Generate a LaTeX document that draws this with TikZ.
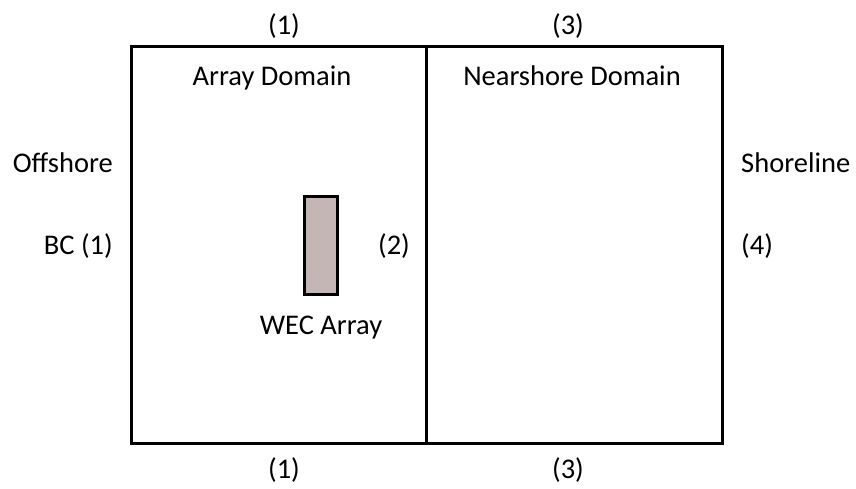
\documentclass[tikz,border=0pt]{standalone}
\usepackage{fontspec}
\setmainfont{Carlito}
\usepackage{tikz}
\usepackage{xcolor}
\definecolor{wecfill}{RGB}{197,182,182}
\tikzset{lbl/.style={inner sep=0pt,font=\fontsize{28.5}{34}\selectfont}}

\begin{document}
\begin{tikzpicture}[x=1pt,y=-1pt]
					\useasboundingbox (0,0) rectangle (856,489);
					\draw[line width=3pt] (131,47) rectangle (722,443);
					\draw[line width=3pt] (426,47)--(426,443);
					\foreach \y/\n in {35/t,478/b}\node[lbl,anchor=base] (one\n) at (284,\y){(1)};
					\foreach \y/\n in {35/t,478/b}\node[lbl,anchor=base] (three\n) at (568,\y){(3)};
					\node[lbl,anchor=base] (arraydom) at (272,86){Array Domain};
					\node[lbl,anchor=base] (nearshore) at (572,86){Nearshore Domain};
					\node[lbl,anchor=base east] (offshore) at (113,173){Offshore};
					\node[lbl,anchor=base east] (bcone) at (113,254){BC (1)};
					\node[lbl,anchor=base] (two) at (394,254){(2)};
					\node[lbl,anchor=base west] (shoreline) at (741,173){Shoreline};
					\node[lbl,anchor=base west] (four) at (741,254){(4)};
					\draw[line width=3pt,fill=wecfill] (304.5,196.5) rectangle (337.5,294.5);
					\node[lbl,anchor=base] (wec) at (321,334){WEC Array};
				\end{tikzpicture}
\end{document}
